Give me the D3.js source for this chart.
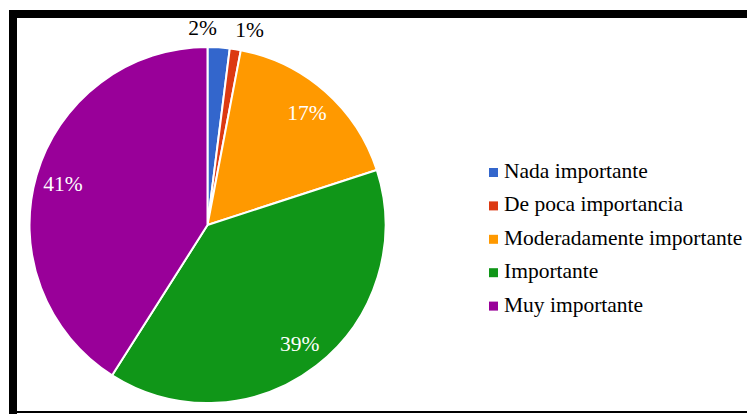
<!DOCTYPE html>
<html>
<head>
<meta charset="utf-8">
<script src="https://cdn.jsdelivr.net/npm/d3@7"></script>
</head>
<body style="margin:0">
<svg id="chart" width="747" height="414"></svg>
<script>
// Importance ratings (percent of respondents)
const categories = ["Nada importante", "De poca importancia", "Moderadamente importante", "Importante", "Muy importante"];
const values = [2, 1, 17, 39, 41];
const colors = ["#3366CC", "#DC3912", "#FF9900", "#109618", "#990099"];

const FONT = "'Liberation Serif'";
const svg = d3.select("#chart");
const W = 747, H = 414;

// Frame around the chart area
svg.append("rect").attr("x", 9).attr("y", 10).attr("width", W - 9).attr("height", 8).attr("fill", "#000");
svg.append("rect").attr("x", 9).attr("y", 10).attr("width", 8).attr("height", H - 10).attr("fill", "#000");
svg.append("rect").attr("x", 9).attr("y", 411).attr("width", W - 9).attr("height", 2).attr("fill", "#000");

const cx = 207.5, cy = 225, R = 178;
const fontSize = 21.5;

const pie = d3.pie().sort(null).value(d => d.value);
const data = categories.map((c, i) => ({ name: c, value: values[i], color: colors[i] }));
const arcs = pie(data);
const total = d3.sum(values);

const arc = d3.arc().innerRadius(0).outerRadius(R);
const labelArc = d3.arc().innerRadius(R * 0.845).outerRadius(R * 0.845);
const outerArc = d3.arc().innerRadius(R + 19).outerRadius(R + 19);

const g = svg.append("g").attr("transform", `translate(${cx},${cy})`);

g.selectAll("path.slice")
  .data(arcs)
  .enter().append("path")
  .attr("class", "slice")
  .attr("d", arc)
  .attr("fill", d => d.data.color)
  .attr("stroke", "#fff")
  .attr("stroke-width", 2)
  .attr("stroke-linejoin", "round");

// Labels: inside the slice when it is wide enough, otherwise just outside the rim
const fmt = d => Math.round(d.data.value / total * 100) + "%";
const isSmall = d => (d.endAngle - d.startAngle) < 0.3;

const inside = arcs.filter(d => !isSmall(d));
g.selectAll("text.inlabel")
  .data(inside)
  .enter().append("text")
  .attr("class", "inlabel")
  .attr("transform", d => `translate(${labelArc.centroid(d)})`)
  .attr("text-anchor", "middle")
  .attr("dy", "0.35em")
  .attr("fill", "#fff")
  .attr("font-size", fontSize)
  .style("font-family", FONT)
  .text(fmt);

// Small neighbouring labels are spread apart: the earlier one ends at its anchor, the later one starts there
const outside = arcs.filter(isSmall);
outside.forEach((d, i) => {
  d.anchor = outside.length > 1 ? (i < outside.length - 1 ? "end" : "start") : "middle";
});
g.selectAll("text.outlabel")
  .data(outside)
  .enter().append("text")
  .attr("class", "outlabel")
  .attr("transform", d => {
    const [x, y] = outerArc.centroid(d);
    const pad = d.anchor === "middle" ? 0 : -3;
    return `translate(${x + pad},${y})`;
  })
  .attr("text-anchor", d => d.anchor)
  .attr("dy", "0.3em")
  .attr("fill", "#000")
  .attr("font-size", fontSize)
  .style("font-family", FONT)
  .text(fmt);

// Legend
const legend = svg.append("g").attr("transform", "translate(489,178)");
const rowH = 33.4;
const rows = legend.selectAll("g.row")
  .data(data)
  .enter().append("g")
  .attr("class", "row")
  .attr("transform", (d, i) => `translate(0,${i * rowH})`);
rows.append("rect")
  .attr("x", 0).attr("y", -10).attr("width", 9).attr("height", 9)
  .attr("fill", d => d.color);
rows.append("text")
  .attr("x", 15).attr("y", 0)
  .attr("fill", "#000")
  .attr("font-size", fontSize)
  .style("font-family", FONT)
  .text(d => d.name);
</script>
</body>
</html>
